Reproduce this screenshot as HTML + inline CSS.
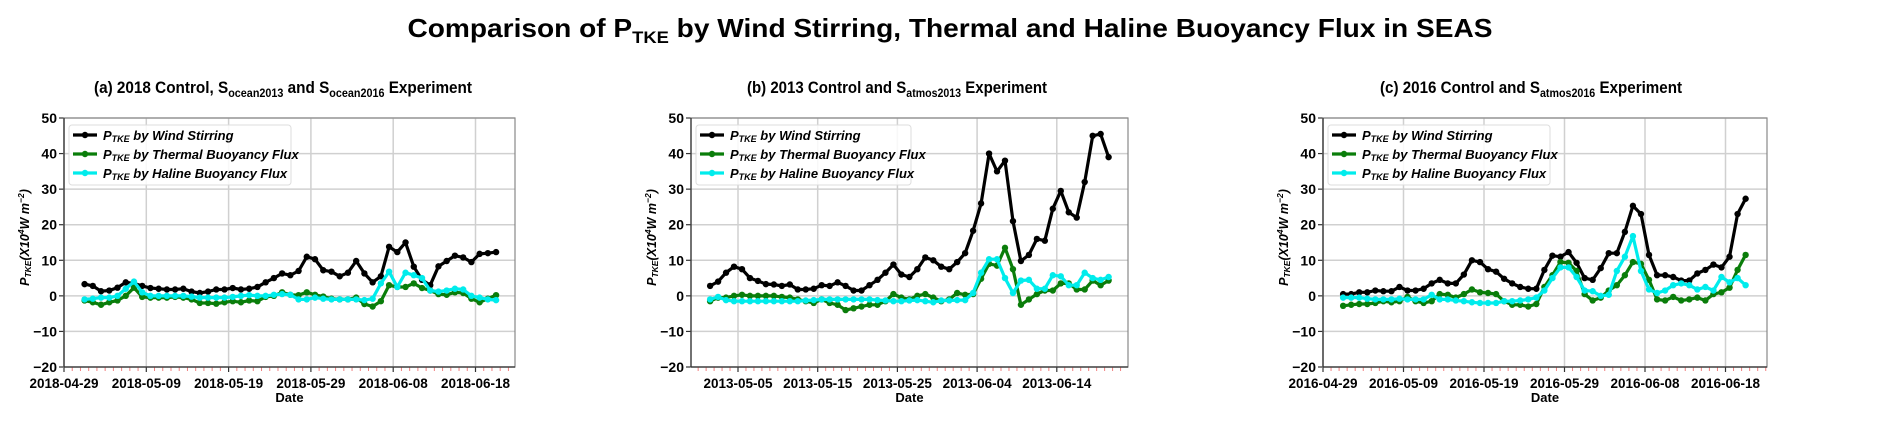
<!DOCTYPE html>
<html><head><meta charset="utf-8">
<style>
html,body{margin:0;padding:0;background:#fff;}
svg{display:block;font-family:"Liberation Sans",sans-serif;}
</style></head>
<body>
<svg id="fig" width="1892" height="424" viewBox="0 0 1892 424" xmlns="http://www.w3.org/2000/svg">
<text x="950" y="37" text-anchor="middle" font-size="26" font-weight="bold" textLength="1085" lengthAdjust="spacingAndGlyphs">Comparison of P<tspan font-size="17" dy="6">TKE</tspan><tspan dy="-6"> by Wind Stirring, Thermal and Haline Buoyancy Flux in SEAS</tspan></text>
<text x="283" y="93" text-anchor="middle" font-size="17" font-weight="bold" textLength="378" lengthAdjust="spacingAndGlyphs">(a) 2018 Control, S<tspan font-size="12" dy="4">ocean2013</tspan><tspan dy="-4"> and S</tspan><tspan font-size="12" dy="4">ocean2016</tspan><tspan dy="-4"> Experiment</tspan></text>
<text x="897" y="93" text-anchor="middle" font-size="17" font-weight="bold" textLength="300" lengthAdjust="spacingAndGlyphs">(b) 2013 Control and S<tspan font-size="12" dy="4">atmos2013</tspan><tspan dy="-4"> Experiment</tspan></text>
<text x="1531" y="93" text-anchor="middle" font-size="17" font-weight="bold" textLength="302" lengthAdjust="spacingAndGlyphs">(c) 2016 Control and S<tspan font-size="12" dy="4">atmos2016</tspan><tspan dy="-4"> Experiment</tspan></text>
</svg>
<script>
const NS="http://www.w3.org/2000/svg";
const svg=document.getElementById('fig');
const yTicks=[-20,-10,0,10,20,30,40,50];
const seriesNames=["Wind Stirring","Thermal Buoyancy Flux","Haline Buoyancy Flux"];
const seriesColors=["#000000","#0a7d0a","#00ecec"];
const ticksA=["2018-04-29","2018-05-09","2018-05-19","2018-05-29","2018-06-08","2018-06-18"];
const ticksB=["2013-05-05","2013-05-15","2013-05-25","2013-06-04","2013-06-14"];
const ticksC=["2016-04-29","2016-05-09","2016-05-19","2016-05-29","2016-06-08","2016-06-18"];
const windA=[3.3,2.8,1.3,1.5,2.3,3.8,3.5,2.8,2.2,2.0,1.8,1.8,2.0,1.2,0.8,1.2,1.8,1.8,2.2,1.8,2.0,2.5,3.8,5.0,6.3,5.8,7.0,11.0,10.3,7.2,6.8,5.5,6.5,9.8,6.3,3.8,5.5,13.8,12.3,15.0,8.2,4.5,3.0,8.3,9.8,11.3,10.8,9.5,11.8,12.0,12.3];
const thermA=[-1.3,-1.8,-2.5,-1.8,-1.3,0.0,2.3,-0.3,-0.5,-0.5,-0.5,-0.3,-0.5,-1.0,-2.0,-2.0,-2.2,-1.8,-1.5,-1.8,-1.3,-1.5,-0.3,0.0,1.0,0.3,0.2,1.0,0.3,-0.2,-0.8,-1.0,-1.0,-0.5,-2.3,-3.0,-1.5,3.0,2.5,2.5,3.5,2.2,1.5,0.5,0.3,1.0,0.8,-0.8,-1.8,-0.8,0.2];
const halA=[-1,-0.8,-0.5,-0.5,0,2,4,1,0,0,0,0,0,-0.2,-0.5,-0.5,-0.5,-0.5,-0.3,0,0.2,0,0,0.3,0.5,0.3,-1,-1,-0.5,-0.8,-1,-1,-1,-1,-1.2,-0.8,3.5,6.8,2.5,6.5,5.8,5.0,1.5,1.2,1.5,2.0,1.8,0,-0.5,-1.0,-1.2];
const windB=[2.8,4,6.5,8.2,7.5,5,4.2,3.3,3.2,2.8,3.2,1.8,1.8,2,3,2.8,3.8,2.8,1.5,1.5,3,4.5,6.5,8.8,6,5.3,7.5,10.8,10,8.2,7.5,9.5,12,18.3,26,40,35,38,21,9.8,11.5,16,15.5,24.5,29.5,23.5,22,32,45,45.5,39];
const thermB=[-1.5,-0.5,-0.5,0,0.3,0,0,0,0,-0.3,-0.5,-1,-1.5,-2,-1,-2,-2.5,-4,-3.5,-3,-2.5,-2.5,-1.5,0.5,-0.5,-1,0,0.5,-0.5,-1.5,-1,0.8,0.3,0.5,4.8,9,8.5,13.5,7.5,-2.5,-1,0.5,1.5,1.5,3.5,3.5,1.8,1.8,4.3,3,4.3];
const halB=[-1,-0.3,-1.2,-1.5,-1.5,-1.5,-1.5,-1.5,-1.5,-1.5,-1.5,-1.5,-1.3,-1.2,-1,-1,-1,-1,-1,-1,-1,-1.2,-1.3,-1.5,-1.5,-1.3,-1.2,-1.5,-1.8,-1.3,-1.3,-1.2,-1.2,0.8,6.5,10.3,10.3,5,0.8,4.3,4.5,2,2,5.8,5.5,3,3,6.5,5,4.5,5.3];
const windC=[0.5,0.5,1,1,1.5,1.3,1.3,2.5,1.5,1.5,2,3.5,4.5,3.5,3.5,6,10,9.5,7.5,6.8,4.8,3.5,2.5,2,2,7.3,11.3,11,12.3,9.3,5,4.5,7.8,12,12,18,25.3,23,11.5,5.8,5.8,5.3,4.3,4.3,6.3,7.3,8.8,8,11,23,27.3];
const thermC=[-2.8,-2.5,-2.3,-2.3,-2,-1.5,-1.8,-1.5,-0.3,-1.5,-2,-1.5,0.5,0.3,-0.5,0.5,1.8,1,0.8,0.5,-1.5,-2.5,-2.5,-3,-2.3,2.5,5.8,9.5,9.3,7,0.5,-1.3,-0.5,1.5,3,5.8,9.5,9,4.5,-1,-1.3,-0.3,-1.3,-1,-0.5,-1.3,0.5,1,2.3,7.3,11.5];
const halC=[-0.5,-0.5,-0.5,-0.8,-1,-1,-1,-0.8,-1,-1,-1,0.3,-1,-1,-1.3,-1.5,-1.8,-2,-2,-2,-1.5,-1.5,-1.3,-1,-0.5,1.5,5,8,8,5.3,1.5,1.3,0,0.3,7,11,16.8,7,1.8,0.8,1.5,3,3.5,3,1.8,2.5,1.5,5.3,3.8,5,3];

const panels=[
 {id:'a',L:64,R:515,x0:64,ppd:8.23,start:2.5,tickDay0:0,ticks:ticksA,series:[windA,thermA,halA],ylx:25},
 {id:'b',L:691,R:1128,x0:738,ppd:7.97,start:-3.5,tickDay0:0,ticks:ticksB,series:[windB,thermB,halB],ylx:652},
 {id:'c',L:1323,R:1767,x0:1323,ppd:8.05,start:2.5,tickDay0:0,ticks:ticksC,series:[windC,thermC,halC],ylx:1284}
];
const T=118,B=367;
function mk(tag,attrs,parent){const e=document.createElementNS(NS,tag);for(const k in attrs)e.setAttribute(k,attrs[k]);(parent||svg).appendChild(e);return e;}
panels.forEach(p=>{
 const g=mk('g',{});
 
 
 const ys=v=>B-(v+20)/70*(B-T);
 const xs=d=>p.x0+d*p.ppd;
 // grid
 yTicks.forEach(v=>{
  const y=ys(v);
  const gl=mk('line',{x1:p.L,x2:p.R,y1:y,y2:y,stroke:'#d0d0d0','stroke-width':1.5},g);
  
  
  mk('line',{x1:p.L-5,x2:p.L,y1:y,y2:y,stroke:'#333','stroke-width':1.2},g);
  const t=mk('text',{x:p.L-7,y:y+5,'text-anchor':'end','font-size':14,'font-weight':'bold'},g);
  t.textContent=(v<0?'\u2212'+(-v):v);
  
  
 });
 p.ticks.forEach((lab,i)=>{
  const x=xs(i*10);
  const gl=mk('line',{x1:x,x2:x,y1:T,y2:B,stroke:'#d0d0d0','stroke-width':1.5},g);
  
  
  mk('line',{x1:x,x2:x,y1:B,y2:B+5,stroke:'#333','stroke-width':1.2},g);
  const t=mk('text',{x:x,y:B+21,'text-anchor':'middle','font-size':13.5,'font-weight':'bold'},g);
  t.textContent=lab;
  
  
 });
 // red minor ticks daily
 for(let d=Math.ceil((p.L-p.x0)/p.ppd);xs(d)<=p.R;d++){
  if(d%10===0)continue;
  mk('line',{x1:xs(d),x2:xs(d),y1:B,y2:B+4,stroke:'#f08080','stroke-width':1},g);
 }
 // spines
 mk('rect',{x:p.L,y:T,width:p.R-p.L,height:B-T,fill:'none',stroke:'#888','stroke-width':1.2},g);
 mk('line',{x1:p.L,x2:p.L,y1:T,y2:B,stroke:'#333','stroke-width':1.3},g);
 mk('line',{x1:p.L,x2:p.R,y1:B,y2:B,stroke:'#333','stroke-width':1.3},g);
 // series
 p.series.forEach((arr,si)=>{
  const pts=arr.map((v,i)=>xs(p.start+i).toFixed(1)+','+ys(v).toFixed(1)).join(' ');
  const pl=mk('polyline',{points:pts,fill:'none',stroke:seriesColors[si],'stroke-width':3.2,'stroke-linejoin':'round'},g);
  
  
  arr.forEach((v,i)=>{
   const c=mk('circle',{cx:xs(p.start+i),cy:ys(v),r:3.2,fill:seriesColors[si]},g);
   
   
  });
 });
 // legend
 const lg=mk('g',{},g);
 
 
 const lx=p.L+5, lw=(p.id==='b'?215:222);
 mk('rect',{x:lx,y:125,width:lw,height:60,rx:3,fill:'#fff','fill-opacity':0.85,stroke:'#ddd'},lg);
 seriesNames.forEach((n,si)=>{
  const y=135+si*19;
  mk('line',{x1:lx+4,x2:lx+28,y1:y,y2:y,stroke:seriesColors[si],'stroke-width':3.2},lg);
  mk('circle',{cx:lx+16,cy:y,r:3.2,fill:seriesColors[si]},lg);
  const t=mk('text',{x:lx+34,y:y+5,'font-size':13,'font-weight':'bold','font-style':'italic'},lg);
  t.innerHTML='P<tspan font-size="9" dy="2">TKE</tspan><tspan dy="-2"> by '+n+'</tspan>';
  
  
 });
 // axis labels
 const xl=mk('text',{x:(p.L+p.R)/2,y:B+35,'text-anchor':'middle','font-size':13,'font-weight':'bold'},g);
 xl.textContent='Date';
 
 
 const yl=mk('text',{x:0,y:0,'text-anchor':'middle','font-size':12.5,'font-weight':'bold','font-style':'italic',transform:'translate('+(p.ylx+4)+','+((T+B)/2-5)+') rotate(-90)'},g);
 yl.innerHTML='P<tspan font-size="8.5" dy="2">TKE</tspan><tspan dy="-2">(X10</tspan><tspan font-size="8.5" dy="-5">4</tspan><tspan dy="5">W  m</tspan><tspan font-size="8.5" dy="-5">\u22122</tspan><tspan dy="5">)</tspan>';
 
 
});
</script>
</body></html>
